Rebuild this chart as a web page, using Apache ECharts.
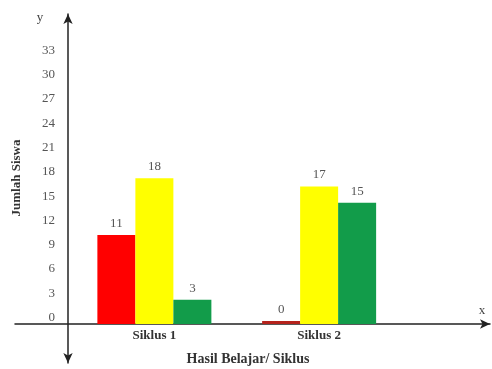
<!DOCTYPE html>
<html>
<head>
<meta charset="utf-8">
<script src="https://cdn.jsdelivr.net/npm/echarts@6/dist/echarts.min.js"></script>
<style>html,body{margin:0;padding:0;background:#fff}#c{width:492px;height:369px}</style>
</head>
<body>
<div id="c"></div>
<script>
var categories = ['Siklus 1', 'Siklus 2'];
var redValues = [11, 0];
var yellowValues = [18, 17];
var greenValues = [3, 15];
var yTicks = [0, 3, 6, 9, 12, 15, 18, 21, 24, 27, 30, 33];

var serif = '"Liberation Serif", "DejaVu Serif", serif';
var chart = echarts.init(document.getElementById('c'), null, {renderer: 'canvas'});

function mkSeries(name, vals, color, extra) {
  var s = {
    name: name, type: 'bar', xAxisIndex: 0, yAxisIndex: 0,
    barWidth: 38, barGap: '0%',
    data: vals.map(function (v) {
      if (v === 0) return {value: v, itemStyle: {color: '#b5221c'}};
      return v;
    }),
    itemStyle: {color: color},
    label: {show: true, position: 'top', distance: 5, fontFamily: serif, fontSize: 13, color: '#555'}
  };
  for (var k in extra) s[k] = extra[k];
  return s;
}

chart.setOption({
  animation: false,
  backgroundColor: '#fff',
  grid: [
    {left: 72, right: 90.5, top: 57, bottom: 45},
    {left: 15, right: 2, top: 14, bottom: 6}
  ],
  xAxis: [
    {type: 'category', gridIndex: 0, data: categories, boundaryGap: true,
     axisLine: {show: false}, axisTick: {show: false},
     axisLabel: {margin: 5, fontFamily: serif, fontWeight: 'bold', fontSize: 13, color: '#333'}},
    {type: 'value', gridIndex: 1, min: -53, max: 422,
     axisLine: {show: true, onZero: true, symbol: ['none', 'arrow'], symbolSize: [7, 10], lineStyle: {color: '#222', width: 1.5}},
     axisTick: {show: false}, axisLabel: {show: false}, splitLine: {show: false}}
  ],
  yAxis: [
    {type: 'value', gridIndex: 0, min: 0, max: 33, interval: 3,
     axisLine: {show: false}, axisTick: {show: false}, splitLine: {show: false},
     axisLabel: {margin: 17, verticalAlign: 'bottom', fontFamily: serif, fontSize: 13, color: '#555',
       formatter: function (v) { return yTicks.indexOf(v) >= 0 ? String(v) : ''; }}},
    {type: 'value', gridIndex: 1, min: -39, max: 310,
     axisLine: {show: true, onZero: true, symbol: ['arrow', 'arrow'], symbolSize: [7, 10], lineStyle: {color: '#222', width: 1.5}},
     axisTick: {show: false}, axisLabel: {show: false}, splitLine: {show: false}}
  ],
  series: [
    mkSeries('Merah', redValues, '#ff0000', {barMinHeight: 3}),
    mkSeries('Kuning', yellowValues, '#ffff00', {}),
    mkSeries('Hijau', greenValues, '#129c4a', {})
  ],
  graphic: [
    {type: 'text', x: 17, y: 178, rotation: Math.PI / 2,
     style: {text: 'Jumlah Siswa', fontFamily: serif, fontWeight: 'bold', fontSize: 13, fill: '#333', align: 'center', verticalAlign: 'middle'}},
    {type: 'text', x: 40, y: 18,
     style: {text: 'y', fontFamily: serif, fontSize: 13, fill: '#444', align: 'center', verticalAlign: 'middle'}},
    {type: 'text', x: 482, y: 311,
     style: {text: 'x', fontFamily: serif, fontSize: 13, fill: '#444', align: 'center', verticalAlign: 'middle'}},
    {type: 'text', x: 248, y: 359,
     style: {text: 'Hasil Belajar/ Siklus', fontFamily: serif, fontWeight: 'bold', fontSize: 14, fill: '#333', align: 'center', verticalAlign: 'middle'}}
  ]
});
</script>
</body>
</html>
